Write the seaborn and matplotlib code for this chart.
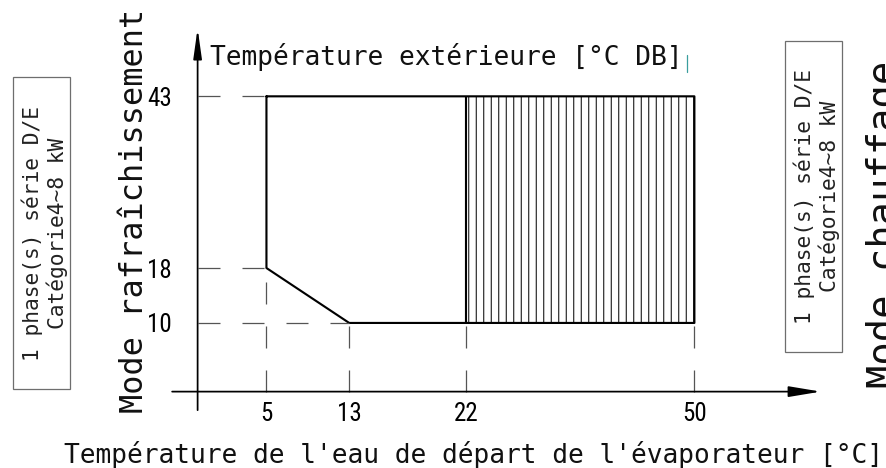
import numpy as np
import pandas as pd
import matplotlib
matplotlib.use('Agg')
import matplotlib.pyplot as plt
from matplotlib.patches import Rectangle
from matplotlib.lines import Line2D
import seaborn as sns

# operating envelope (cooling), water outlet temp vs outdoor temp
envelope_x = [5, 5, 13, 50, 50, 5]
envelope_y = [43, 18, 10, 10, 43, 43]
heat_zone_x = [22, 50]
heat_zone_y = [10, 43]

x_ticks = [5, 13, 22, 50]
x_guide_top = [18, 10, 10, 10]
y_ticks = [43, 18, 10]
y_guide_end = [5, 5, 13]

title_top = "Température extérieure [°C DB]"
title_bottom = "Température de l'eau de départ de l'évaporateur [°C]"
label_left = "Mode rafraîchissement"
label_right = "Mode chauffage"
box_text = "1 phase(s) série D/E\nCatégorie4~8 kW"

# page layout, in pixels from the top-left corner
W, H, DPI = 886, 468, 90
PT = 72 / DPI
x_anchor_val = [-30, 0, 5, 13, 22, 50, 120]
x_anchor_px = [-215.3, 197.5, 266.3, 349, 465.7, 694, 1264.5]
y0_px, y_per_unit = 391.7, 6.86

mono = 'DejaVu Sans Mono'
narrow = ['Liberation Sans Narrow', 'Roboto Condensed', 'Open Sans Condensed', 'DejaVu Sans']

sns.set_theme(style='white')
plt.rcParams['font.family'] = [mono, 'DejaVu Sans']
plt.rcParams['lines.scale_dashes'] = False
plt.rcParams['hatch.linewidth'] = 0.8
plt.rcParams['hatch.color'] = 'black'


def fwd(v):
    return np.interp(v, x_anchor_val, x_anchor_px)


def inv(p):
    return np.interp(p, x_anchor_px, x_anchor_val)


fig = plt.figure(figsize=((W + 0.5) / DPI, (H + 0.5) / DPI), dpi=DPI)
ax = fig.add_axes([0, 0, 1, 1])
ax.set_xscale('function', functions=(fwd, inv))

env = pd.DataFrame({'x': envelope_x, 'y': envelope_y})
sns.lineplot(data=env, x='x', y='y', sort=False, estimator=None,
             color='black', linewidth=1.7, ax=ax)

# hatched heating zone
ax.fill_between(heat_zone_x, heat_zone_y[0], heat_zone_y[1], hatch='||',
                facecolor='none', edgecolor='black', linewidth=0)
ax.vlines(heat_zone_x[0], heat_zone_y[0], heat_zone_y[1], color='black', linewidth=1.7)

# dashed guide lines
dash = (0, (22 * PT, 22 * PT))
for v, top in zip(x_ticks, x_guide_top):
    ax.plot([v, v], [0, top], color='#555555', linewidth=1.0, linestyle=dash)
for v, end in zip(y_ticks, y_guide_end):
    ax.plot([0, end], [v, v], color='#555555', linewidth=1.0, linestyle=dash)

# axes with arrows
ax.annotate('', xy=(0, 52.9), xytext=(0, -2.7),
            arrowprops=dict(arrowstyle='-|>,head_length=2.0,head_width=0.28',
                            mutation_scale=10, lw=1.4, color='black',
                            shrinkA=0, shrinkB=0))
ax.annotate('', xy=(65.5, 0), xytext=(-1.85, 0),
            arrowprops=dict(arrowstyle='-|>,head_length=2.16,head_width=0.36',
                            mutation_scale=10, lw=1.4, color='black',
                            shrinkA=0, shrinkB=0))

for v in x_ticks:
    ax.annotate(str(v), xy=(v, 0), xytext=(0, -22 * PT), textcoords='offset points',
                ha='center', va='center', fontsize=20, family=narrow,
                fontstretch='condensed', color='black')
for v in y_ticks:
    ax.annotate(str(v), xy=(0, v), xytext=(-25.5 * PT, -2 * PT), textcoords='offset points',
                ha='right', va='center', fontsize=20, family=narrow,
                fontstretch='condensed', color='black')

ax.set_xlim(inv(0), inv(W))
ax.set_ylim(-(H - y0_px) / y_per_unit, y0_px / y_per_unit)
ax.axis('off')

# titles
fig.text(210 / W, 1 - 65 / H, title_top, ha='left', va='baseline', fontsize=21, color='#111111')
fig.text(473 / W, 5 / H, title_bottom, ha='center', va='baseline', fontsize=21, color='#111111')
fig.text(143 / W, 1 - 211 / H, label_left, rotation=90, rotation_mode='anchor',
         ha='center', va='baseline', fontsize=25.5, color='#111111')
fig.text(895 / W, 1 - 224 / H, label_right, rotation=90, rotation_mode='anchor',
         ha='center', va='baseline', fontsize=31, color='#111111')

# cursor mark after the top title
fig.add_artist(Line2D([686.7 / W, 686.7 / W], [1 - 55 / H, 1 - 72 / H],
                      color='#3a9e9e', linewidth=1.0))

# framed model notes
for bx, by, bw, bh in [(13.3, 77.7, 56.7, 311.6), (784.3, 41.3, 57.4, 310.4)]:
    fig.add_artist(Rectangle((bx / W, 1 - (by + bh) / H), bw / W, bh / H,
                             transform=fig.transFigure, fill=False,
                             edgecolor='#6e6e6e', linewidth=1.0))
    fig.text((bx + bw / 2 + 3) / W, 1 - (by + bh / 2) / H, box_text, rotation=90,
             ha='center', va='center', multialignment='center', fontsize=17,
             color='#222222')

fig.savefig('out.png', dpi=DPI)
